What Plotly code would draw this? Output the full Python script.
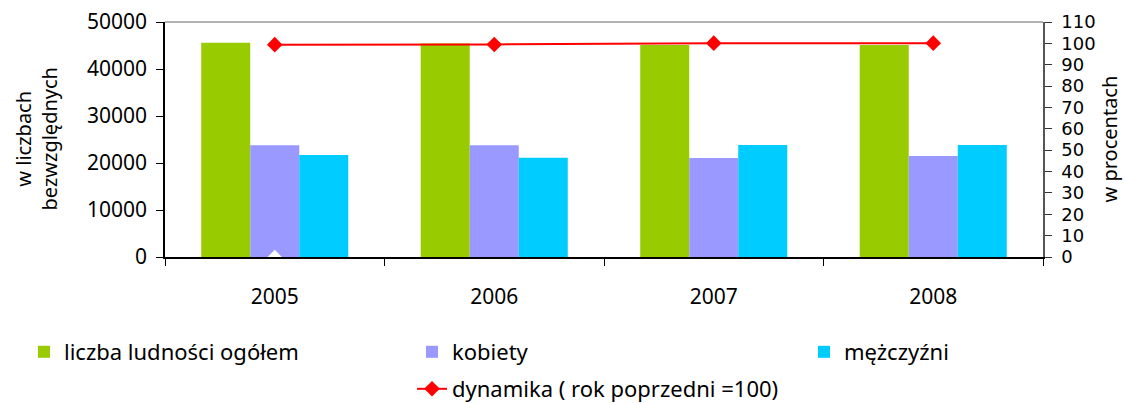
import plotly.graph_objects as go

years = ["2005", "2006", "2007", "2008"]
ogolem = [45600, 45400, 45100, 45100]
kobiety = [23800, 23800, 21050, 21500]
mezczyzni = [21700, 21100, 23850, 23850]
dynamika = [99.4, 99.5, 100.1, 100.1]
artefakt_x = ["2005"]
artefakt_y = [0]
left_ticks = [0, 10000, 20000, 30000, 40000, 50000]
right_ticks = list(range(0, 111, 10))

FONT = "Noto Sans"
TICKFONT = {"size": 21, "color": "black"}
# tighter line box so the crowded right-hand labels do not collide
RTICKFONT = {"family": "DejaVu Sans", "size": 18, "color": "black"}
LEGFONT = {"size": 22, "color": "black"}

fig = go.Figure()
fig.add_trace(go.Bar(x=years, y=ogolem, name="liczba ludności ogółem",
                     marker={"color": "#99CC00", "line": {"width": 0}}, legend="legend"))
fig.add_trace(go.Bar(x=years, y=kobiety, name="kobiety",
                     marker={"color": "#9999FF", "line": {"width": 0}}, legend="legend2"))
fig.add_trace(go.Bar(x=years, y=mezczyzni, name="mężczyźni",
                     marker={"color": "#00CCFF", "line": {"width": 0}}, legend="legend3"))
fig.add_trace(go.Scatter(x=years, y=dynamika, yaxis="y2", name="dynamika ( rok poprzedni =100)",
                         mode="lines+markers", line={"color": "#FF0000", "width": 2},
                         marker={"symbol": "diamond", "size": 12, "color": "#FF0000"},
                         legend="legend4"))
fig.add_trace(go.Scatter(x=artefakt_x, y=artefakt_y, yaxis="y2", mode="markers",
                         marker={"symbol": "diamond", "size": 11, "color": "white"},
                         showlegend=False, hoverinfo="skip", cliponaxis=False))

legend_common = {"orientation": "h", "xref": "container", "yref": "container",
                 "yanchor": "middle", "font": LEGFONT, "bgcolor": "rgba(0,0,0,0)"}

fig.update_layout(
    width=1125, height=403,
    margin={"l": 165, "r": 82, "t": 22, "b": 146, "autoexpand": False},
    paper_bgcolor="white", plot_bgcolor="white",
    font={"family": FONT, "size": 20, "color": "black"},
    barmode="group", bargap=0.33, bargroupgap=0,
    xaxis={"type": "category", "categoryorder": "array", "categoryarray": years,
           "range": [-0.5, 3.5], "showline": True, "linecolor": "black", "linewidth": 1.5,
           "tickson": "boundaries", "ticks": "outside", "ticklen": 7, "tickcolor": "black",
           "showgrid": False, "ticklabelstandoff": 20, "tickfont": {"size": 21}},
    xaxis2={"overlaying": "x", "range": [-0.5, 3.5], "tickvals": [0.5, 1.5, 2.5],
            "ticks": "inside", "ticklen": 8, "tickcolor": "black", "showticklabels": False,
            "showgrid": False, "zeroline": False, "showline": False},
    yaxis={"range": [0, 50000], "tickvals": left_ticks, "tickformat": "d",
           "showline": True, "linecolor": "black", "linewidth": 1.5, "ticks": "outside",
           "ticklen": 7, "tickcolor": "black", "showgrid": False, "zeroline": False,
           "tickfont": TICKFONT, "ticklabelstandoff": 5},
    yaxis2={"range": [0, 110], "tickvals": right_ticks, "overlaying": "y",
            "side": "right", "showline": True, "linecolor": "#555555", "linewidth": 1.5,
            "ticks": "outside", "ticklen": 7, "tickcolor": "#333333", "showgrid": False,
            "zeroline": False, "tickfont": RTICKFONT, "ticklabelstandoff": 6},
    yaxis3={"range": [0, 110], "tickvals": right_ticks, "overlaying": "y", "side": "right",
            "anchor": "x", "ticks": "inside", "ticklen": 6, "tickcolor": "#333333",
            "showticklabels": False, "showgrid": False, "zeroline": False, "showline": False},
    shapes=[{"type": "line", "xref": "paper", "yref": "paper", "x0": 0, "x1": 1,
             "y0": 1, "y1": 1, "line": {"color": "#999999", "width": 1.5}}],
    annotations=[
        {"text": "w liczbach<br>bezwzględnych", "textangle": -90, "xref": "paper", "yref": "paper",
         "x": (36 - 165) / 878, "xanchor": "center", "y": 0.5, "yanchor": "middle",
         "showarrow": False, "font": {"size": 20}},
        {"text": "w procentach", "textangle": -90, "xref": "paper", "yref": "paper",
         "x": (1109 - 165) / 878, "xanchor": "center", "y": 0.5, "yanchor": "middle",
         "showarrow": False, "font": {"size": 20}},
    ],
    legend={**legend_common, "x": 24 / 1125, "y": 1 - 352 / 403},
    legend2={**legend_common, "x": 412 / 1125, "y": 1 - 352 / 403},
    legend3={**legend_common, "x": 804 / 1125, "y": 1 - 352 / 403},
    legend4={**legend_common, "x": 412 / 1125, "y": 1 - 389 / 403},
    showlegend=True,
)

fig.write_html("out.html", config={"displayModeBar": False},
               post_script="document.body.style.margin='0';")
